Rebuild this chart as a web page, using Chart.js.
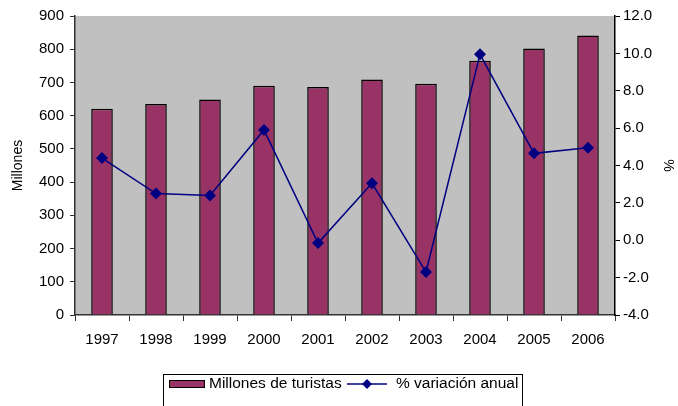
<!DOCTYPE html>
<html>
<head>
<meta charset="utf-8">
<script src="https://cdn.jsdelivr.net/npm/chart.js@4"></script>
<style>
  body { margin: 0; background: #fff; }
  #wrap { width: 678px; height: 406px; }
</style>
</head>
<body>
<div id="wrap"><canvas id="tur"></canvas></div>
<script>
let years = ['1997','1998','1999','2000','2001','2002','2003','2004','2005','2006'];
let turistas = [621,635,649,690,686,709,696,765,802,841];
let variacion = [4.4,2.5,2.4,5.9,-0.15,3.05,-1.7,9.95,4.65,4.95];

Chart.defaults.font.family = 'Arial, "Liberation Sans", sans-serif';
Chart.defaults.font.size = 15;
Chart.defaults.color = '#000';

// gray plot background
const plotBg = {
    id: 'plotBg',
    beforeDraw(chart) {
        const {ctx, chartArea: a} = chart;
        ctx.save();
        ctx.fillStyle = '#c0c0c0';
        ctx.fillRect(a.left, a.top, a.right - a.left, a.bottom - a.top);
        ctx.restore();
    }
};

// excel-like legend with a border
const boxLegend = {
    id: 'boxLegend',
    afterDraw(chart) {
        const ctx = chart.ctx;
        const ds = chart.data.datasets;
        const barDs = ds.find(d => d.type !== 'line');
        const lineDs = ds.find(d => d.type === 'line');
        const x0 = 163, y0 = 374;
        ctx.save();
        ctx.strokeStyle = '#000';
        ctx.lineWidth = 1;
        ctx.strokeRect(x0 + 0.5, y0 + 0.5, 359, 40);
        // bar swatch
        ctx.fillStyle = '#993366';
        ctx.fillRect(x0 + 6, y0 + 7, 35, 7);
        ctx.strokeRect(x0 + 6.5, y0 + 6.5, 35, 7);
        ctx.font = '15.5px Arial, "Liberation Sans", sans-serif';
        ctx.fillStyle = '#000';
        ctx.textBaseline = 'middle';
        ctx.fillText(barDs.label, x0 + 46, y0 + 10);
        // line swatch
        ctx.strokeStyle = '#000080';
        ctx.lineWidth = 1.5;
        ctx.beginPath();
        ctx.moveTo(x0 + 184, y0 + 10);
        ctx.lineTo(x0 + 224, y0 + 10);
        ctx.stroke();
        ctx.fillStyle = '#000080';
        ctx.beginPath();
        const cx = x0 + 204, cy = y0 + 10;
        ctx.moveTo(cx, cy - 5); ctx.lineTo(cx + 5, cy); ctx.lineTo(cx, cy + 5); ctx.lineTo(cx - 5, cy);
        ctx.closePath();
        ctx.fill();
        ctx.fillStyle = '#000';
        ctx.fillText(lineDs.label, x0 + 233, y0 + 10);
        ctx.restore();
    }
};

const ctx = document.getElementById('tur').getContext('2d');
const myChart = new Chart(ctx, {
    type: 'bar',
    data: {
        labels: years,
        datasets: [
            {
                type: 'line',
                label: '% variación anual',
                data: variacion,
                yAxisID: 'y1',
                borderColor: '#000080',
                backgroundColor: '#000080',
                borderWidth: 1.5,
                pointStyle: 'rectRot',
                pointRadius: 6,
                pointBorderWidth: 0,
                tension: 0,
                order: 0
            },
            {
                label: 'Millones de turistas',
                data: turistas,
                yAxisID: 'y',
                backgroundColor: '#993366',
                borderColor: '#000',
                borderWidth: 1.5,
                categoryPercentage: 1,
                barPercentage: 0.4,
                order: 1
            }
        ]
    },
    options: {
        responsive: true,
        maintainAspectRatio: false,
        animation: false,
        layout: { padding: { top: 16, bottom: 51, left: 0, right: 0 } },
        scales: {
            x: {
                grid: { offset: true, drawOnChartArea: false, tickLength: 6, color: '#333' },
                border: { color: '#333', width: 1.5 },
                ticks: { padding: 10, maxRotation: 0 },
                afterFit(s) { s.height = 40; }
            },
            y: {
                position: 'left',
                min: 0, max: 900,
                ticks: { stepSize: 100, padding: 6 },
                grid: { drawOnChartArea: false, tickLength: 5, color: '#333' },
                border: { color: '#333', width: 1.5 },
                title: { display: true, text: 'Millones', font: { size: 14 }, padding: { top: 10, bottom: 0 } },
                afterFit(s) { s.width = 75; }
            },
            y1: {
                position: 'right',
                min: -4, max: 12,
                ticks: { stepSize: 2, padding: 3, callback: v => v.toFixed(1) },
                grid: { drawOnChartArea: false, tickLength: 5, color: '#000' },
                border: { color: '#000', width: 1.5 },
                title: { display: true, text: '%', font: { size: 14 }, padding: { top: 2, bottom: 0 } },
                afterFit(s) { s.width = 63; }
            }
        },
        plugins: {
            legend: { display: false },
            tooltip: { enabled: false }
        }
    },
    plugins: [plotBg, boxLegend]
});
</script>
</body>
</html>
